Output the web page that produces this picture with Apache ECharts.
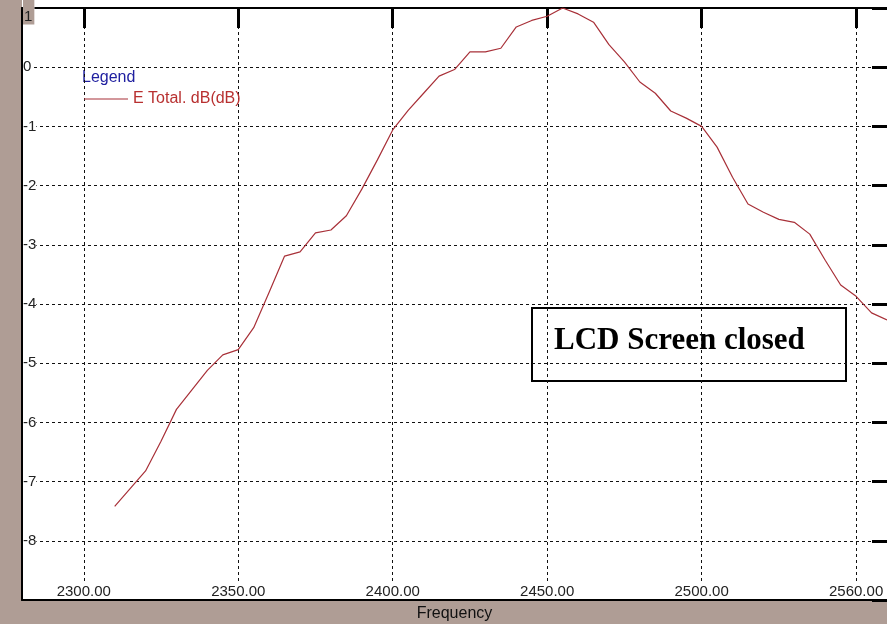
<!DOCTYPE html>
<html>
<head>
<meta charset="utf-8">
<script src="https://cdn.jsdelivr.net/npm/echarts@6/dist/echarts.min.js"></script>
<style>
  html, body { margin: 0; padding: 0; background: #af9d95; }
  #main { width: 887px; height: 624px; }
</style>
</head>
<body>
<div id="main"></div>
<script>
// frequency (MHz) and level (dB)
const freq = [2310, 2315, 2320, 2325, 2330, 2335, 2340, 2345, 2350, 2355,
  2360, 2365, 2370, 2375, 2380, 2385, 2390, 2395, 2400, 2405,
  2410, 2415, 2420, 2425, 2430, 2435, 2440, 2445, 2450, 2455,
  2460, 2465, 2470, 2475, 2480, 2485, 2490, 2495, 2500, 2505,
  2510, 2515, 2520, 2525, 2530, 2535, 2540, 2545, 2550, 2555, 2560];
const eTotal = [-7.42, -7.12, -6.82, -6.32, -5.78, -5.45, -5.12, -4.86, -4.77, -4.40,
  -3.80, -3.19, -3.12, -2.80, -2.75, -2.51, -2.06, -1.57, -1.06, -0.73,
  -0.44, -0.15, -0.04, 0.26, 0.26, 0.32, 0.68, 0.79, 0.86, 1.00,
  0.90, 0.76, 0.38, 0.09, -0.25, -0.44, -0.74, -0.86, -1.00, -1.35,
  -1.86, -2.31, -2.45, -2.57, -2.62, -2.82, -3.26, -3.68, -3.87, -4.15, -4.27];

const xTickValues = [2300, 2350, 2400, 2450, 2500, 2550];
const xTickLabels = ["2300.00", "2350.00", "2400.00", "2450.00", "2500.00", "2560.00"];

const seriesName = "E Total. dB(dB)";
const note = "LCD Screen closed";

const chart = echarts.init(document.getElementById("main"));

const gridLine = { show: true, lineStyle: { color: "#111", width: 1, type: [3, 3] } };

chart.setOption({
  animation: false,
  backgroundColor: "transparent",
  textStyle: { fontFamily: "Liberation Sans, Arial, sans-serif" },
  grid: {
    left: 22, right: 0, top: 8, bottom: 24,
    containLabel: false, outerBoundsMode: "none",
    show: true, backgroundColor: "#fff", borderWidth: 0,
  },
  legend: {
    left: 79, top: 86,
    icon: "rect", itemWidth: 44, itemHeight: 1,
    textStyle: { color: "#b83030", fontSize: 16 },
    data: [seriesName],
  },
  xAxis: [
    {
      type: "value", min: 2280, max: 2560,
      name: "Frequency", nameLocation: "middle", nameGap: 6,
      nameTextStyle: { color: "#111", fontSize: 16 },
      axisLine: { show: true, onZero: false, lineStyle: { color: "#000", width: 2 } },
      axisTick: { show: false, customValues: xTickValues },
      axisLabel: {
        inside: true, margin: 1, customValues: xTickValues,
        color: "#222", fontSize: 15, backgroundColor: "#fff", padding: [0, 1],
        formatter: (v) => xTickLabels[xTickValues.indexOf(v)],
      },
      splitLine: gridLine,
    },
    {
      type: "value", min: 2280, max: 2560, position: "top",
      axisLine: { show: true, onZero: false, lineStyle: { color: "#000", width: 2 } },
      axisTick: { show: true, inside: true, length: 20, customValues: xTickValues,
        lineStyle: { color: "#000", width: 3 } },
      axisLabel: { show: false },
      splitLine: { show: false },
    },
  ],
  yAxis: [
    {
      type: "value", min: -9, max: 1, interval: 1,
      axisLine: { show: true, onZero: false, lineStyle: { color: "#000", width: 2 } },
      axisTick: { show: false },
      axisLabel: {
        inside: true, margin: 1, color: "#222", fontSize: 15,
        backgroundColor: "#fff",
        formatter: (v) => (v === -9 ? "" : v === 1 ? "{top|1}" : String(v)),
        rich: { top: { backgroundColor: "#af9d95", padding: [18, 2, 0, 1], fontSize: 15, color: "#222" } },
      },
      splitLine: gridLine,
    },
    {
      type: "value", min: -9, max: 1, interval: 1, position: "right",
      axisLine: { show: false },
      axisTick: { show: true, inside: true, length: 15, lineStyle: { color: "#000", width: 3 } },
      axisLabel: { show: false },
      splitLine: { show: false },
    },
  ],
  graphic: [
    { type: "rect", left: 22, top: 0, shape: { width: 865, height: 8 }, style: { fill: "#fff" }, silent: true },
    { type: "text", left: 82, top: 70, style: { text: "Legend", fill: "#2020a0", fontSize: 16,
      fontFamily: "Liberation Sans, Arial, sans-serif" } },
    {
      type: "group", left: 531, top: 307, z: 100,
      children: [
        { type: "rect", shape: { x: 0, y: 0, width: 314, height: 73 },
          style: { fill: "#fff", stroke: "#000", lineWidth: 2 } },
        { type: "text", x: 22, y: 17, style: { text: note, fill: "#000",
          font: "bold 31px 'Liberation Serif', 'Times New Roman', serif" } },
      ],
    },
  ],
  series: [
    {
      name: seriesName,
      type: "line",
      data: freq.map((f, i) => [f, eTotal[i]]),
      showSymbol: false,
      lineStyle: { color: "#a83038", width: 1.2 },
      itemStyle: { color: "#a83038" },
    },
  ],
});
</script>
</body>
</html>
